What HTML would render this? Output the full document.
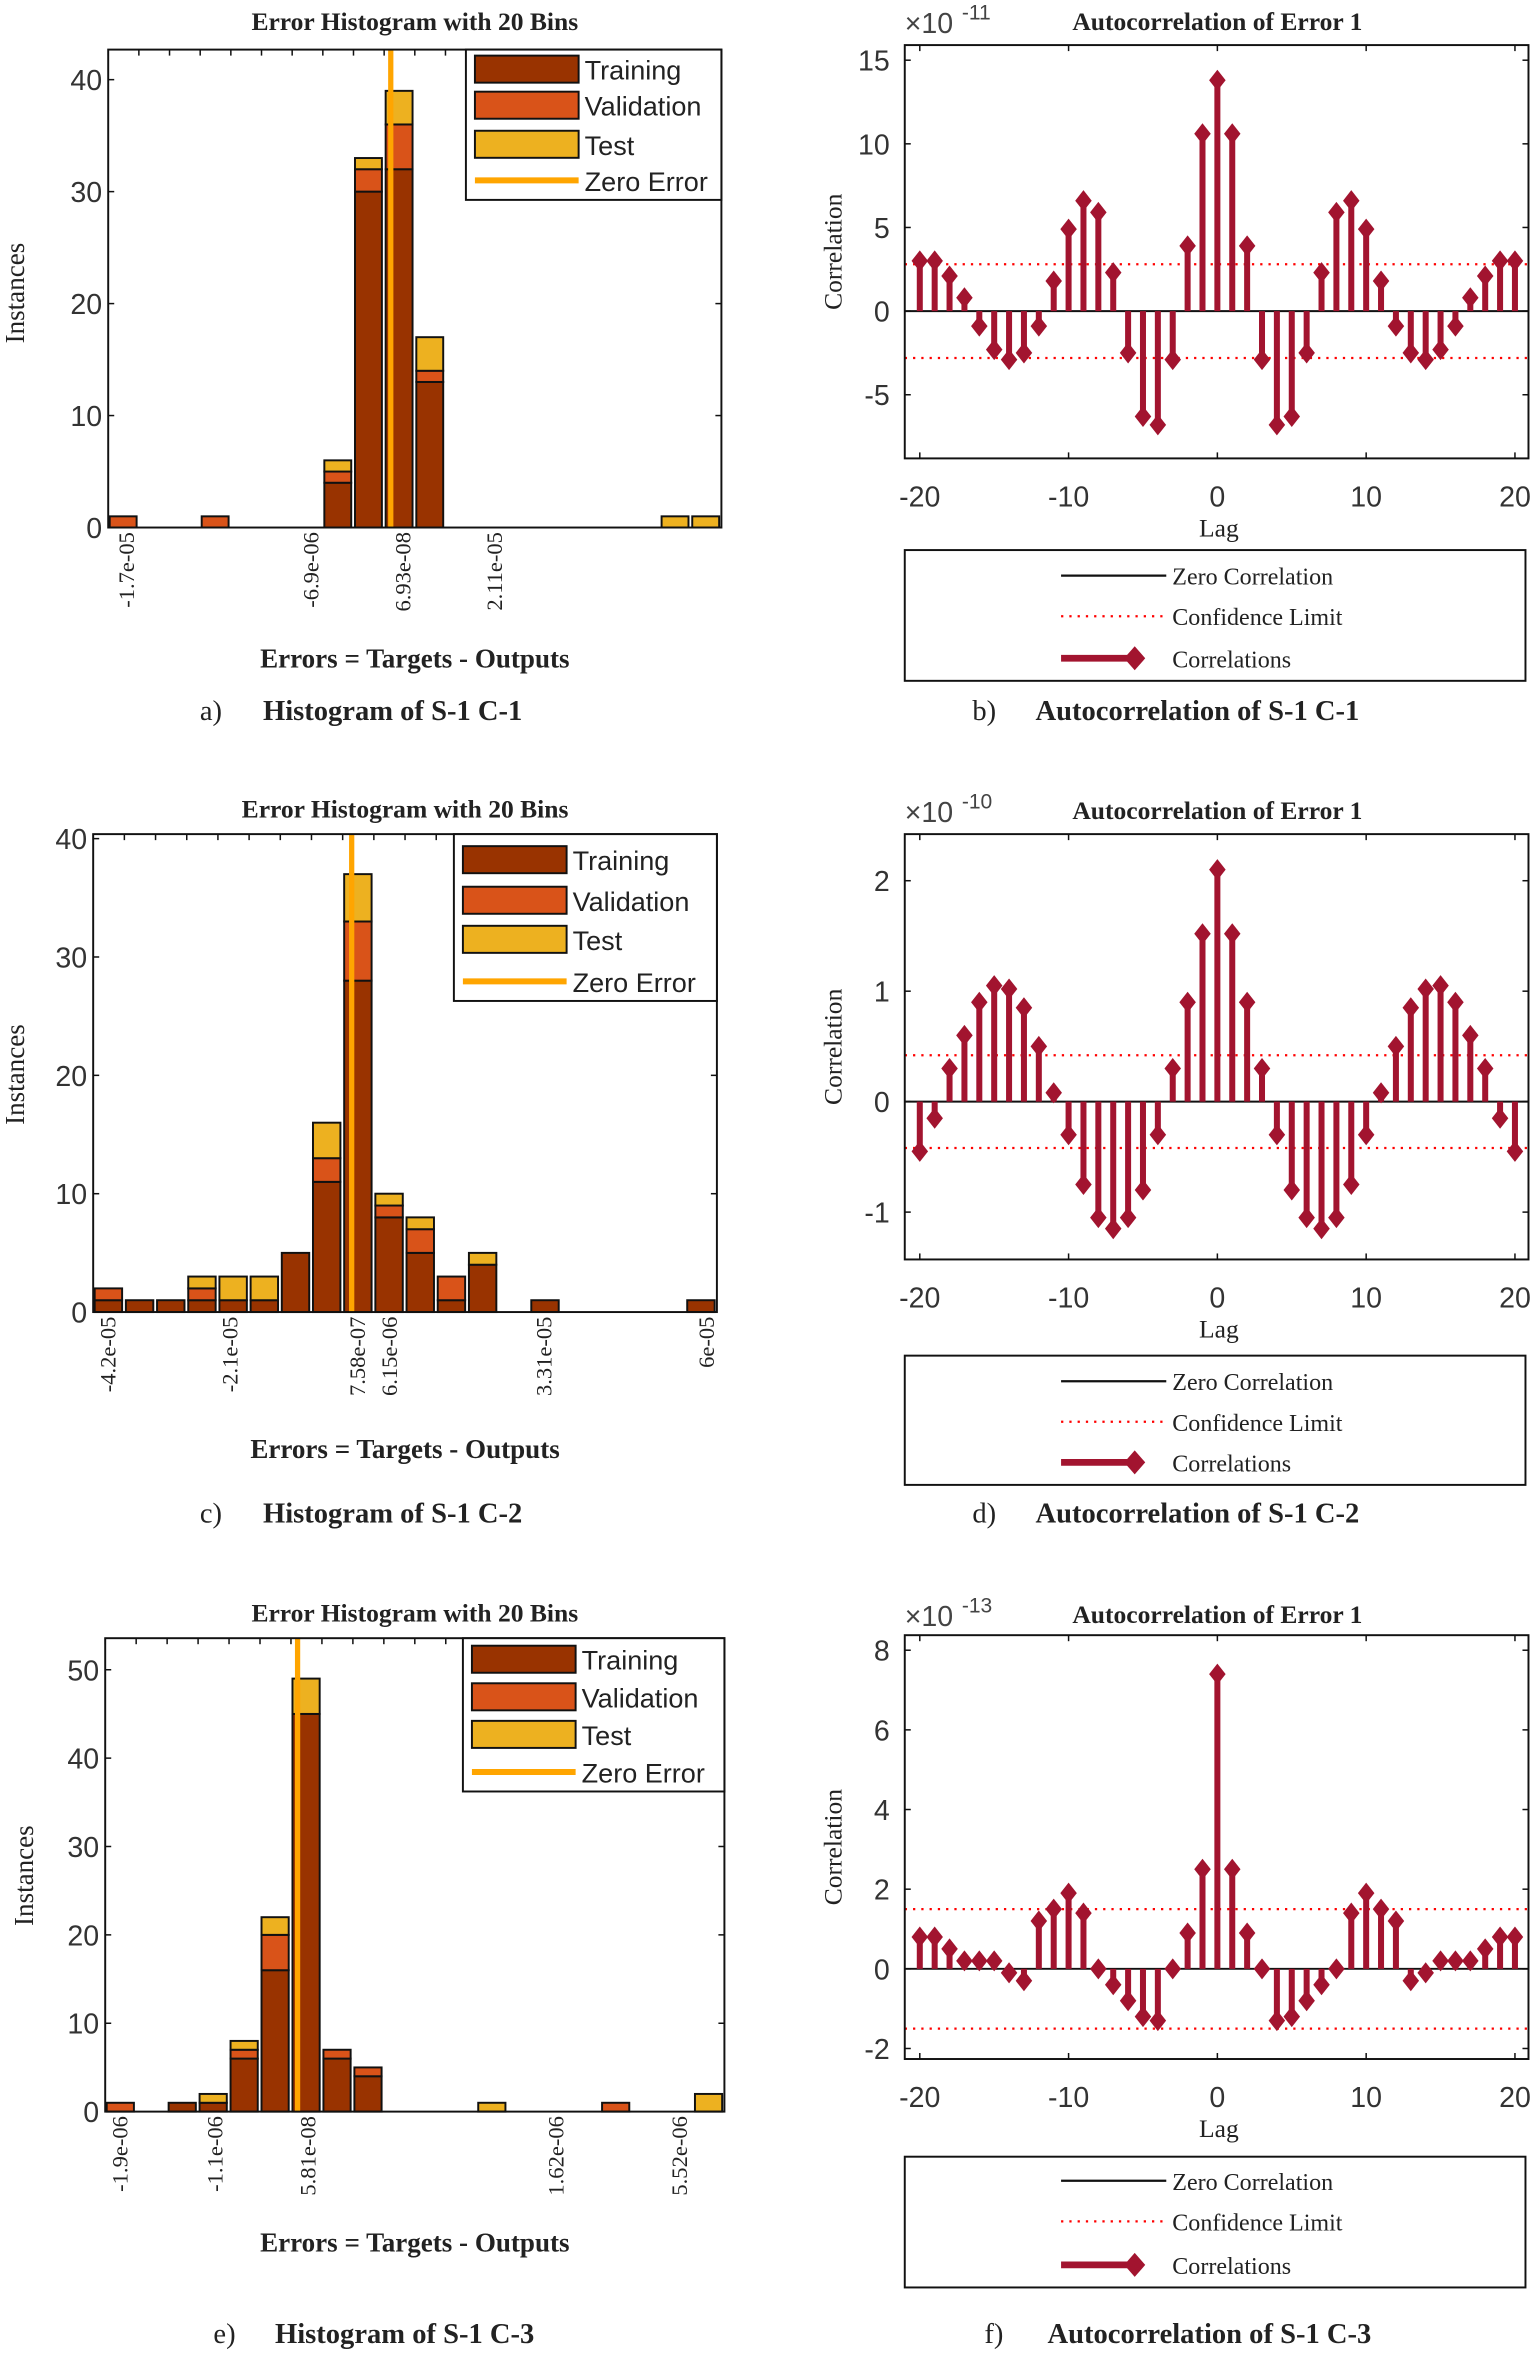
<!DOCTYPE html>
<html><head><meta charset="utf-8"><style>html,body{margin:0;padding:0;background:#fff}svg{display:block}</style></head>
<body>
<svg id="s" xmlns="http://www.w3.org/2000/svg" width="1539" height="2362" viewBox="0 0 1024 1571.6" preserveAspectRatio="none" font-family="Liberation Serif, serif"></svg>
<script>
const S=document.getElementById('s');let h='';
const TR='#993300',VA='#d95319',TE='#edb120',ZE='#ffa500',RC='#a2142f';
function T(x,y,t,o){o=o||{};h+=`<text x="${x}" y="${y}" font-size="${o.fs||16}" ${o.b?'font-weight="bold"':''} text-anchor="${o.a||'start'}" ${o.ff?`font-family="${o.ff}"`:''} fill="${o.c||'#222'}" ${o.r?`transform="rotate(-90 ${x} ${y})"`:''}>${t}</text>`;}
function hist(p){
 const {x0,x1,y0,y1,y0v,ppu,bars,zero,ticks,yt,title,leg,xl,yl}=p;const bw=(x1-x0)/20;
 T((x0+x1)/2,title,'Error Histogram with 20 Bins',{b:1,a:'middle',fs:17});
 for(const [i,a,b,c] of bars){let y=y0v;const bx=x0+i*bw+1;
  [[a,TR],[b,VA],[c,TE]].forEach(([v,col])=>{if(v>0){h+=`<rect x="${bx}" y="${y-v*ppu}" width="${bw-2.5}" height="${v*ppu}" fill="${col}" stroke="#111" stroke-width="1.3"/>`;y-=v*ppu;}});}
 h+=`<line x1="${zero}" y1="${y0}" x2="${zero}" y2="${y1}" stroke="${ZE}" stroke-width="3.5"/>`;
 h+=`<rect x="${x0}" y="${y0}" width="${x1-x0}" height="${y1-y0}" fill="none" stroke="#111" stroke-width="1.3"/>`;
 for(const v of yt){const y=y0v-v*ppu;T(x0-4,y+7,v,{a:'end',fs:19,ff:'Liberation Sans, sans-serif',c:'#333'});h+=`<line x1="${x0}" y1="${y}" x2="${x0+4}" y2="${y}" stroke="#111"/><line x1="${x1}" y1="${y}" x2="${x1-4}" y2="${y}" stroke="#111"/>`;}
 for(const [x,t] of ticks){T(x+5,y1+3,t,{a:'end',fs:15,r:1});}
 for(let i=0;i<=20;i++){const x=x0+i*bw;h+=`<line x1="${x}" y1="${y0}" x2="${x}" y2="${y0+4}" stroke="#111"/>`}
 const [lx0,ly0,lx1,rows]=leg;const ly1=rows[3]+13;
 h+=`<rect x="${lx0}" y="${ly0}" width="${lx1-lx0}" height="${ly1-ly0}" fill="#fff" stroke="#111" stroke-width="1.3"/>`;
 const nm=['Training','Validation','Test','Zero Error'],cs=[TR,VA,TE];
 rows.forEach((y,i)=>{if(i<3)h+=`<rect x="${lx0+6}" y="${y-9}" width="69" height="18" fill="${cs[i]}" stroke="#111" stroke-width="1.3"/>`;else h+=`<line x1="${lx0+6}" y1="${y}" x2="${lx0+75}" y2="${y}" stroke="${ZE}" stroke-width="4"/>`;
  T(lx0+79,y+7,nm[i],{fs:18,ff:'Liberation Sans, sans-serif'});});
 T((x0+x1)/2,xl,'Errors = Targets - Outputs',{b:1,a:'middle',fs:18});
 T(yl[0],yl[1],'Instances',{a:'middle',fs:18,r:1});
}
function ac(p){
 const {x0,x1,y0,y1,zy,ppu,vals,conf,yt,exp,title,leg,cap}=p;const lx=l=>612+(l+20)*9.9;
 T(810,title,'Autocorrelation of Error 1',{b:1,a:'middle',fs:17});
 T(x0,title+2,'×10',{fs:19,ff:'Liberation Sans, sans-serif',c:'#444'});T(x0+38,title-7,exp,{fs:14,ff:'Liberation Sans, sans-serif',c:'#444'});
 [conf,-conf].forEach(c=>{h+=`<line x1="${x0}" y1="${zy-c*ppu}" x2="${x1}" y2="${zy-c*ppu}" stroke="red" stroke-width="1.5" stroke-dasharray="1.5,4"/>`});
 h+=`<line x1="${x0}" y1="${zy}" x2="${x1}" y2="${zy}" stroke="#111" stroke-width="1.3"/>`;
 vals.forEach((v,i)=>{const x=lx(i-20),y=zy-v*ppu;h+=`<line x1="${x}" y1="${zy}" x2="${x}" y2="${y}" stroke="${RC}" stroke-width="4"/><path d="M${x} ${y-7}L${x+5.5} ${y}L${x} ${y+7}L${x-5.5} ${y}Z" fill="${RC}"/>`});
 h+=`<rect x="${x0}" y="${y0}" width="${x1-x0}" height="${y1-y0}" fill="none" stroke="#111" stroke-width="1.3"/>`;
 for(const v of yt){const y=zy-v*ppu;T(x0-10,y+7,v,{a:'end',fs:19,ff:'Liberation Sans, sans-serif',c:'#333'});h+=`<line x1="${x0}" y1="${y}" x2="${x0+4}" y2="${y}" stroke="#111"/><line x1="${x1}" y1="${y}" x2="${x1-4}" y2="${y}" stroke="#111"/>`;}
 for(const l of [-20,-10,0,10,20]){const x=lx(l);T(x,y1+32,l,{a:'middle',fs:19,ff:'Liberation Sans, sans-serif',c:'#333'});h+=`<line x1="${x}" y1="${y1}" x2="${x}" y2="${y1-4}" stroke="#111"/><line x1="${x}" y1="${y0}" x2="${x}" y2="${y0+4}" stroke="#111"/>`;}
 T(811,y1+52,'Lag',{a:'middle',fs:17});
 T(560,(y0+y1)/2,'Correlation',{a:'middle',fs:17,r:1});
 const [ly0,rows]=leg;h+=`<rect x="602" y="${ly0}" width="413" height="${rows[2]+15-ly0}" fill="#fff" stroke="#111" stroke-width="1.3"/>`;
 h+=`<line x1="706" y1="${rows[0]}" x2="776" y2="${rows[0]}" stroke="#111" stroke-width="1.5"/>`;
 h+=`<line x1="706" y1="${rows[1]}" x2="776" y2="${rows[1]}" stroke="red" stroke-width="1.5" stroke-dasharray="1.5,4"/>`;
 h+=`<line x1="706" y1="${rows[2]}" x2="755" y2="${rows[2]}" stroke="${RC}" stroke-width="4.5"/><path d="M755 ${rows[2]-8}L762 ${rows[2]}L755 ${rows[2]+8}L748 ${rows[2]}Z" fill="${RC}"/>`;
 ['Zero Correlation','Confidence Limit','Correlations'].forEach((t,i)=>T(780,rows[i]+6,t,{fs:16}));
}
function sym(a){return a.concat(a.slice(0,20).reverse());}
function cap(x1,x2,y,l,t){T(x1,y,l,{fs:19});T(x2,y,t,{fs:19,b:1});}
hist({x0:72,x1:480,y0:33,y1:351,y0v:351,ppu:7.45,title:20,xl:444,yl:[16,195],
 bars:[[0,0,1,0],[3,0,1,0],[7,4,1,1],[8,30,2,1],[9,32,4,3],[10,13,1,3],[18,0,0,1],[19,0,0,1]],
 zero:260,ticks:[[84,'-1.7e-05'],[207,'-6.9e-06'],[268,'6.93e-08'],[329,'2.11e-05']],yt:[0,10,20,30,40],
 leg:[310,33,480,[46,70,96,120]]});
cap(133,175,479,'a)','Histogram of S-1 C-1');
ac({x0:602,x1:1017,y0:30,y1:305,zy:207,ppu:11.13,conf:2.8,yt:[15,10,5,0,-5],exp:'-11',title:20,
 vals:sym([3,3,2.1,0.8,-0.9,-2.3,-2.9,-2.5,-0.9,1.8,4.9,6.6,5.9,2.3,-2.5,-6.3,-6.8,-2.9,3.9,10.6,13.8]),leg:[366,[383,410,438]]});
cap(647,689,479,'b)','Autocorrelation of S-1 C-1');
hist({x0:62,x1:477,y0:555,y1:873,y0v:873,ppu:7.875,title:544,xl:970,yl:[16,715],
 bars:[[0,1,1,0],[1,1,0,0],[2,1,0,0],[3,1,1,1],[4,1,0,2],[5,1,0,2],[6,5,0,0],[7,11,2,3],[8,28,5,4],[9,8,1,1],[10,5,2,1],[11,1,2,0],[12,4,0,1],[14,1,0,0],[19,1,0,0]],
 zero:234,ticks:[[72,'-4.2e-05'],[153,'-2.1e-05'],[238,'7.58e-07'],[259,'6.15e-06'],[362,'3.31e-05'],[470,'6e-05']],yt:[0,10,20,30,40],
 leg:[302,555,477,[572,599,625,653]]});
cap(133,175,1013,'c)','Histogram of S-1 C-2');
ac({x0:602,x1:1017,y0:555,y1:838,zy:733,ppu:73.5,conf:0.42,yt:[2,1,0,-1],exp:'-10',title:545,
 vals:sym([-0.45,-0.15,0.3,0.6,0.9,1.05,1.02,0.85,0.5,0.08,-0.3,-0.75,-1.05,-1.15,-1.05,-0.8,-0.3,0.3,0.9,1.52,2.1]),leg:[902,[919,946,973]]});
cap(647,689,1013,'d)','Autocorrelation of S-1 C-2');
hist({x0:70,x1:482,y0:1090,y1:1405,y0v:1405,ppu:5.88,title:1079,xl:1498,yl:[22,1248],
 bars:[[0,0,1,0],[2,1,0,0],[3,1,0,1],[4,6,1,1],[5,16,4,2],[6,45,0,4],[7,6,1,0],[8,4,1,0],[12,0,0,1],[16,0,1,0],[19,0,0,2]],
 zero:198,ticks:[[80,'-1.9e-06'],[143,'-1.1e-06'],[205,'5.81e-08'],[370,'1.62e-06'],[452,'5.52e-06']],yt:[0,10,20,30,40,50],
 leg:[308,1090,482,[1104,1129,1154,1179]]});
cap(142,183,1559,'e)','Histogram of S-1 C-3');
ac({x0:602,x1:1017,y0:1088,y1:1370,zy:1310,ppu:26.5,conf:1.5,yt:[8,6,4,2,0,-2],exp:'-13',title:1080,
 vals:sym([0.8,0.8,0.5,0.2,0.2,0.2,-0.1,-0.3,1.2,1.5,1.9,1.4,0,-0.4,-0.8,-1.2,-1.3,0,0.9,2.5,7.4]),leg:[1435,[1451,1478,1507]]});
cap(655,697,1559,'f)','Autocorrelation of S-1 C-3');
S.innerHTML=h;
</script>
</body></html>
